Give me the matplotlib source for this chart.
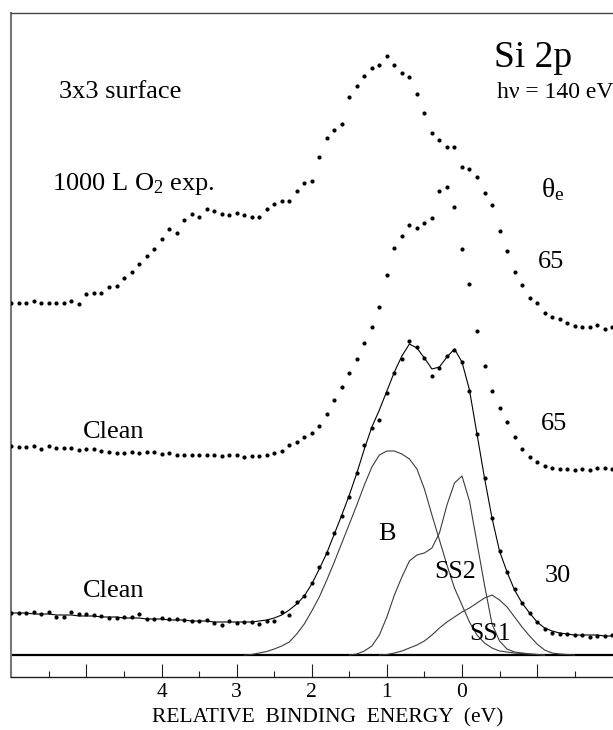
import numpy as np
import matplotlib
matplotlib.use("Agg")
import matplotlib.pyplot as plt

plt.rcParams['font.family'] = ['Liberation Serif', 'DejaVu Serif']
plt.rcParams['mathtext.fontset'] = 'custom'
plt.rcParams['mathtext.rm'] = 'Liberation Serif'
plt.rcParams['mathtext.it'] = 'Liberation Serif:italic'

# ---- data (relative binding energy in eV, intensity in arbitrary units) ----
energy = np.round(np.arange(6.0, -2.05, -0.1), 1)

oxidized_65 = [352, 352, 352, 354, 352, 352, 352, 352, 354, 351,
               361, 362, 362, 368, 369, 377, 383, 391, 399, 406,
               416, 426, 422, 435, 441, 438, 446, 444, 441, 440,
               442, 440, 438, 438, 446, 451, 454, 454, 464, 472,
               474, 498, 517, 525, 531, 558, 569, 579, 587, 590,
               599, 590, 582, 578, 561, 542, 522, 515, 508, 508,
               488, 486, 478, 462, 450, 424, 404, 383, 370, 357,
               352, 342, 338, 336, 332, 329, 328, 328, 330, 326, 328]

clean_65 = [209, 208, 208, 209, 206, 209, 207, 207, 207, 205,
            206, 206, 204, 203, 202, 202, 203, 202, 203, 203,
            201, 202, 200, 200, 200, 200, 200, 200, 199, 200,
            200, 198, 199, 199, 200, 202, 204, 210, 213, 218,
            222, 229, 241, 255, 268, 282, 296, 312, 328, 348,
            380, 407, 419, 430, 427, 432, 437, 464, 468, 448,
            406, 371, 324, 289, 264, 247, 233, 218, 206, 198,
            193, 189, 187, 186, 186, 185, 186, 185, 187, 187, 186]

clean_30 = [42, 42, 42, 43, 41, 43, 38, 38, 43, 41,
            41, 40, 39, 37, 37, 38, 38, 41, 36, 36,
            37, 36, 36, 35, 34, 34, 35, 32, 30, 34,
            32, 33, 33, 31, 34, 34, 43, 40, 53, 59,
            72, 88, 102, 122, 139, 158, 182, 210, 227, 235,
            262, 282, 296, 314, 308, 297, 279, 287, 299, 305,
            293, 264, 221, 177, 137, 104, 83, 66, 52, 42,
            33, 26, 22, 21, 21, 20, 20, 18, 19, 19, 20]

fit_30 = [42, 42, 42, 41, 41, 41, 40, 40, 40, 39,
          39, 39, 38, 38, 38, 37, 37, 37, 36, 36,
          36, 35, 35, 35, 34, 34, 34, 33, 33, 33,
          33, 33, 33, 34, 35, 37, 40, 45, 51, 59,
          71, 86, 102, 121, 140, 160, 182, 206, 228, 245,
          264, 283, 299, 311, 307, 297, 286, 288, 298, 306,
          293, 265, 221, 177, 137, 104, 83, 65, 52, 42,
          33, 27, 24, 22, 21, 20, 20, 20, 20, 19, 19]

b_energy = np.round(np.arange(2.9, -1.15, -0.1), 1)
b_comp = [0, 0.5, 2, 3.5, 6, 9, 13, 21, 31, 44,
          58, 75, 93, 112, 131, 150, 170, 188, 200, 204,
          204, 201, 196, 186, 166, 140, 115, 90, 67, 50,
          33, 20, 12, 7, 4, 3, 2, 1.5, 1, 0.5, 0]

ss2_energy = np.round(np.arange(1.5, -1.15, -0.1), 1)
ss2_comp = [0, 1, 4, 9, 20, 38,
            60, 78, 94, 100, 102, 107, 122, 150, 172, 179,
            154, 112, 70, 31, 14, 6, 3, 2, 1, 0.5, 0]

ss1_energy = np.round(np.arange(1.1, -1.55, -0.1), 1)
ss1_comp = [0, 0.5,
            2, 4, 7, 10, 14, 20, 27, 33, 38, 43,
            47, 52, 57, 60, 55, 48, 38, 28, 19, 11, 5, 2, 1, 0.5, 0]

major_ticks = [5, 4, 3, 2, 1, 0, -1]
major_labels = ['', '4', '3', '2', '1', '0', '']
minor_ticks = [5.5, 4.5, 3.5, 2.5, 1.5, 0.5, -0.5, -1.5]

# ---- figure ----
fig = plt.figure(figsize=(6.13, 7.30), dpi=100)
ax = fig.add_axes([10.7 / 613, 53 / 730, 602.3 / 613, 663.7 / 730])
ax.set_xlim(6.009, -2.011)
ax.set_ylim(-22, 641.7)

# zero line of the fitted components
ax.axhline(0, color='black', lw=1.6, zorder=1)

comp_kw = dict(color='#3c3c3c', lw=0.8, zorder=2)
ax.plot(b_energy, b_comp, **comp_kw)
ax.plot(ss2_energy, ss2_comp, **comp_kw)
ax.plot(ss1_energy, ss1_comp, **comp_kw)
ax.plot(energy, fit_30, color='black', lw=0.8, zorder=3)

dot_kw = dict(ls='none', marker='o', ms=3.0, color='black', mec='none', zorder=4)
ax.plot(energy, oxidized_65, **dot_kw)
ax.plot(energy, clean_65, **dot_kw)
ax.plot(energy, clean_30, **dot_kw)

# axes styling
ax.set_xticks(major_ticks)
ax.set_xticklabels(major_labels)
ax.set_xticks(minor_ticks, minor=True)
ax.set_yticks([])
ax.tick_params(axis='x', which='major', direction='in', length=9.5, width=0.8,
               labelsize=15.5, pad=4, color='#202020')
ax.tick_params(axis='x', which='minor', direction='in', length=4.6, width=0.8,
               color='#202020')
ax.spines['right'].set_visible(False)
ax.spines['left'].set_color('#777777')
ax.spines['left'].set_linewidth(1.5)
ax.spines['top'].set_color('#444444')
ax.spines['top'].set_linewidth(1.0)
ax.spines['bottom'].set_color('#202020')
ax.spines['bottom'].set_linewidth(1.0)

fig.text(327.5 / 613, 1 - 718 / 730, 'RELATIVE  BINDING  ENERGY  (eV)',
         ha='center', va='center', fontsize=15.5)

# annotations
lbl = dict(ha='center', va='baseline', fontsize=19)
ax.text(-0.94, 588, 'Si 2p', ha='center', va='baseline', fontsize=27)
ax.text(-1.24, 557, 'h\u03bd = 140 eV', ha='center', va='baseline', fontsize=17)
ax.text(4.55, 557, '3x3 surface', **lbl)
ax.text(4.38, 465, '1000 L O$_2$ exp.', **lbl)
ax.text(-1.21, 458, '\u03b8$_\\mathrm{e}$', ha='center', va='baseline', fontsize=20)
ax.text(-1.19, 387, '65', **lbl)
ax.text(-1.23, 225, '65', **lbl)
ax.text(-1.27, 73, '30', **lbl)
ax.text(4.64, 217, 'Clean', **lbl)
ax.text(4.64, 58, 'Clean', **lbl)
ax.text(1.0, 115, 'B', **lbl)
ax.text(0.087, 77, 'SS2', ha='center', va='baseline', fontsize=18.5)
ax.text(-0.38, 15, 'SS1', ha='center', va='baseline', fontsize=18.5)

fig.savefig('out.png', dpi=100)
